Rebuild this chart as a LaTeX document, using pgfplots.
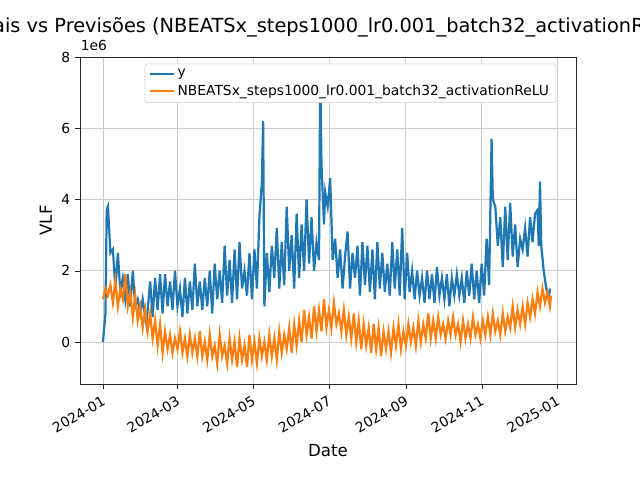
\documentclass[border=0pt]{standalone}
\usepackage{pgfplots}
\pgfplotsset{compat=1.18}
\usepackage{fontspec}
\setmainfont{DejaVu Sans}
\definecolor{c0}{HTML}{1F77B4}
\definecolor{c1}{HTML}{FF7F0E}
\begin{document}
\begin{tikzpicture}
\begin{axis}[at={(0.8in,0.96in)},anchor=south west,scale only axis,width=4.96in,height=3.27in,
 xmin=-18.5,xmax=381,ymin=-1.18,ymax=8,
 xtick={0,60,121,182,244,305,366},
 xticklabels={2024-01,2024-03,2024-05,2024-07,2024-09,2024-11,2025-01},
 xticklabel style={rotate=30,anchor=north east,font=\fontsize{10}{12}\selectfont},
 ytick={0,2,4,6,8},
 yticklabel style={font=\fontsize{10}{12}\selectfont},
 xtick pos=left,ytick pos=left,
 /pgf/number format/assume math mode=true,
 grid=major,grid style={color=black!20,line width=0.6pt},
 axis line style={black!85},
 tick style={black!85},tick align=outside,major tick length=3.5pt,
 xlabel={Date},ylabel={VLF},
 label style={font=\fontsize{12}{14}\selectfont},
 legend style={at={(0.96,0.98)},anchor=north east,font=\fontsize{10}{12}\selectfont,draw=black!20,rounded corners=2pt,cells={anchor=west}},
 legend cell align=left,
 clip=true]
\addplot[c0,line width=1.6pt] coordinates {(0,0)(2,0.8)(3,3.7)(4,3.8)(6,2.5)(8,2.6)(10,1.5)(12,2.5)(14,1.4)(16,1.8)(18,1.2)(20,1.9)(22,1.0)(24,2.0)(26,1.0)(28,1.2)(30,0.8)(32,1.2)(35,0.5)(38,1.7)(40,0.7)(42,1.8)(44,0.9)(46,1.9)(48,0.8)(50,1.9)(52,1.0)(54,1.7)(56,0.9)(58,2.0)(60,1.0)(62,1.5)(64,0.7)(66,1.8)(68,0.8)(70,1.7)(72,0.9)(74,2.2)(76,1.0)(78,1.7)(80,0.9)(82,1.8)(84,1.0)(86,2.0)(88,0.8)(90,2.2)(92,1.2)(94,2.0)(96,1.1)(98,2.7)(100,1.3)(102,2.3)(104,1.1)(106,2.6)(108,1.2)(110,2.8)(112,1.5)(114,2.0)(116,1.3)(118,2.5)(120,1.2)(122,2.6)(124,1.5)(126,3.5)(128,4.5)(129,6.2)(130,1.0)(132,2.5)(134,1.4)(136,2.7)(138,1.8)(140,3.2)(142,1.5)(144,2.8)(146,1.6)(148,3.8)(150,2.0)(152,3.0)(154,1.5)(156,3.6)(158,1.8)(160,3.3)(162,2.0)(164,4.0)(166,2.2)(168,3.5)(170,2.0)(172,2.8)(174,2.3)(175,7.6)(176,5.0)(178,3.3)(179,4.2)(181,3.8)(183,4.6)(185,2.3)(187,2.9)(189,1.8)(191,2.6)(193,1.5)(195,2.4)(197,3.1)(199,1.5)(201,2.5)(203,1.8)(205,2.7)(207,1.3)(209,2.8)(211,1.6)(213,2.7)(215,1.4)(217,2.6)(219,1.2)(221,2.8)(223,1.5)(225,2.5)(227,1.4)(229,2.2)(231,1.3)(233,2.8)(235,1.5)(237,2.6)(239,1.3)(241,3.2)(243,1.2)(245,2.5)(247,1.4)(249,2.0)(251,1.2)(253,2.0)(255,1.3)(257,1.8)(259,1.1)(261,2.0)(263,1.2)(265,1.9)(267,1.1)(269,2.1)(271,1.3)(273,1.8)(275,1.2)(277,1.9)(279,1.0)(281,1.8)(283,1.3)(285,1.9)(287,1.3)(289,1.8)(291,1.1)(293,2.0)(295,1.3)(297,2.2)(299,1.2)(301,2.0)(303,1.1)(305,2.2)(307,1.3)(309,2.9)(311,1.6)(313,5.7)(314,4.0)(316,3.8)(318,2.7)(320,3.5)(322,2.1)(324,3.8)(326,2.3)(328,3.9)(330,2.4)(332,3.3)(334,2.1)(336,2.9)(338,2.6)(340,3.2)(342,2.4)(344,3.5)(346,2.8)(348,3.6)(350,3.7)(351,2.7)(352,4.5)(353,2.7)(355,2.0)(357,1.5)(359,1.2)(360,1.5)};
\addlegendentry{y}
\addplot[c1,line width=1.6pt] coordinates {(0,1.2)(2,1.5)(4,1.3)(6,1.6)(8,1.1)(10,1.7)(12,1.0)(14,1.5)(16,1.2)(18,1.9)(20,1.0)(22,1.4)(24,0.7)(26,1.3)(28,0.6)(30,1.0)(32,0.4)(34,0.9)(36,0.3)(38,0.8)(40,0.1)(42,0.6)(44,-0.1)(46,0.5)(48,-0.3)(50,0.3)(52,-0.2)(54,0.2)(56,-0.3)(58,0.1)(60,-0.2)(62,0.3)(64,-0.3)(66,0.1)(68,-0.4)(70,0.2)(72,-0.3)(74,0.1)(76,-0.4)(78,0.3)(80,-0.4)(82,0.0)(84,-0.5)(86,0.2)(88,-0.4)(90,-0.1)(92,-0.6)(94,0.2)(96,-0.4)(98,-0.1)(100,-0.6)(102,0.1)(104,-0.5)(106,0.0)(108,-0.7)(110,0.1)(112,-0.5)(114,-0.1)(116,-0.7)(118,0.2)(120,-0.5)(122,0.0)(124,-0.6)(126,0.1)(128,-0.4)(130,0.0)(132,-0.5)(134,0.2)(136,-0.4)(138,0.1)(140,-0.5)(142,0.3)(144,-0.3)(146,0.2)(148,-0.2)(150,0.4)(152,-0.3)(154,0.5)(156,-0.1)(158,0.6)(160,0.0)(162,0.9)(164,0.2)(166,0.7)(168,0.1)(170,1.0)(172,0.3)(174,0.9)(176,0.3)(178,1.2)(180,0.4)(182,0.9)(184,0.4)(186,1.1)(188,0.5)(190,0.8)(192,0.3)(194,0.9)(196,0.2)(198,0.7)(200,0.1)(202,0.8)(204,0.0)(206,0.6)(208,-0.2)(210,0.5)(212,-0.1)(214,0.4)(216,-0.3)(218,0.5)(220,-0.2)(222,0.4)(224,-0.4)(226,0.3)(228,-0.2)(230,0.3)(232,-0.3)(234,0.4)(236,-0.1)(238,0.5)(240,-0.2)(242,0.3)(244,-0.1)(246,0.5)(248,0.0)(250,0.4)(252,-0.1)(254,0.6)(256,0.0)(258,0.5)(260,0.1)(262,0.8)(264,0.1)(266,0.6)(268,0.1)(270,0.7)(272,0.2)(274,0.5)(276,0.1)(278,0.6)(280,0.2)(282,0.7)(284,0.2)(286,0.5)(288,0.0)(290,0.6)(292,0.1)(294,0.5)(296,0.1)(298,0.7)(300,0.2)(302,0.5)(304,0.1)(306,0.6)(308,0.2)(310,0.7)(312,0.2)(314,0.8)(316,0.3)(318,0.6)(320,0.2)(322,0.8)(324,0.3)(326,0.7)(328,0.4)(330,1.0)(332,0.4)(334,0.9)(336,0.5)(338,1.0)(340,0.5)(342,1.1)(344,0.7)(346,1.2)(348,0.8)(350,1.4)(352,1.0)(354,1.5)(356,1.1)(358,1.4)(360,1.0)(361,1.3)};
\addlegendentry{NBEATSx\_steps1000\_lr0.001\_batch32\_activationReLU}
\end{axis}
\node[anchor=south west,font=\fontsize{10}{12}\selectfont] at (0.76in,4.24in) {1e6};
\node[font=\fontsize{14}{16}\selectfont] at (3.28in,4.53in) {Reais vs Previsões (NBEATSx\_steps1000\_lr0.001\_batch32\_activationReLU)};
\pgfresetboundingbox
\path[use as bounding box] (0,0) rectangle (6.4in,4.8in);
\end{tikzpicture}
\end{document}
